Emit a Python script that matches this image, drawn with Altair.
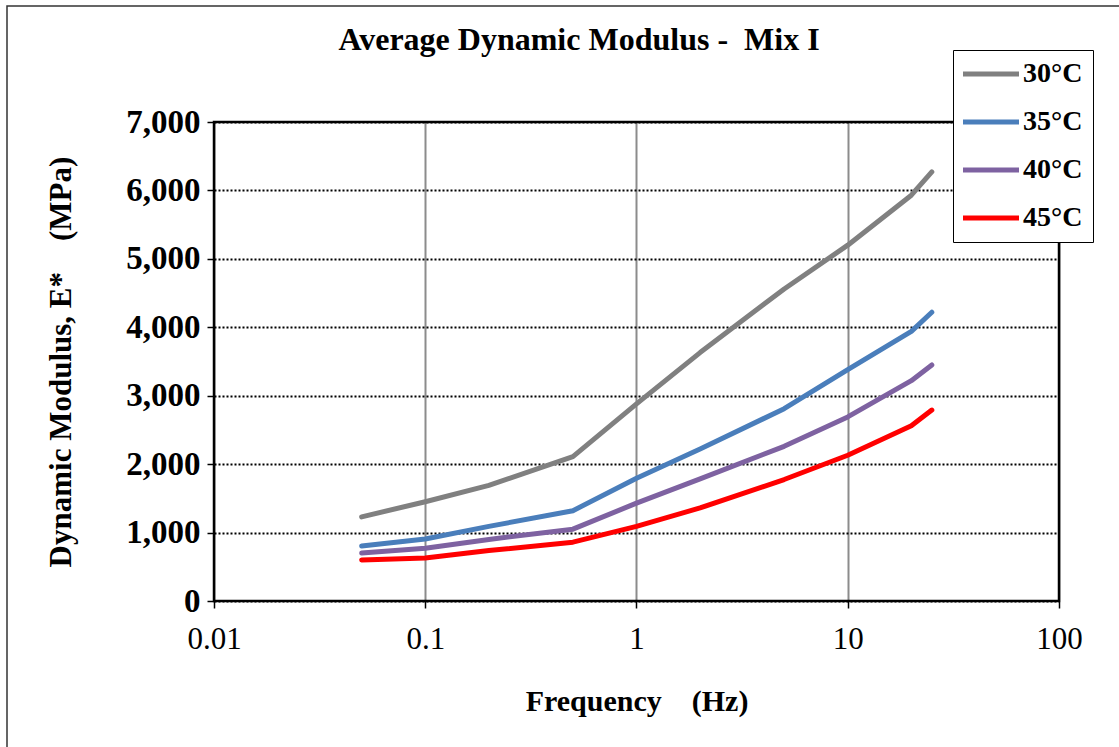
import altair as alt
import pandas as pd

# Loading frequencies (Hz) and average |E*| (MPa) for each test temperature
freq = [0.05, 0.1, 0.2, 0.5, 1, 2, 5, 10, 20, 25]
e_30 = [1230, 1450, 1690, 2110, 2880, 3630, 4560, 5200, 5930, 6270]
e_35 = [805, 905, 1090, 1320, 1795, 2220, 2810, 3380, 3940, 4220]
e_40 = [700, 772, 900, 1050, 1430, 1785, 2260, 2690, 3220, 3450]
e_45 = [600, 628, 737, 860, 1090, 1360, 1775, 2130, 2560, 2790]

temps = ["30°C", "35°C", "40°C", "45°C"]
colors = ["#808080", "#4A7EBB", "#7E62A1", "#FF0000"]
x_ticks = [0.01, 0.1, 1, 10, 100]
y_ticks = [0, 1000, 2000, 3000, 4000, 5000, 6000, 7000]

title_text = "Average Dynamic Modulus -\u00a0\u00a0Mix I"
x_title = "Frequency\u00a0\u00a0\u00a0\u00a0(Hz)"
y_title = "Dynamic Modulus, E*\u00a0\u00a0\u00a0\u00a0(MPa)"

rows = []
for t, series in zip(temps, [e_30, e_35, e_40, e_45]):
    for f, e in zip(freq, series):
        rows.append({"Frequency": f, "Modulus": e, "Temperature": t})
df = pd.DataFrame(rows)

FONT = "Liberation Serif"
W, H = 845, 479
one = pd.DataFrame({"a": [0]})

lines = alt.Chart(df).mark_line(strokeWidth=5, strokeCap="round", strokeJoin="round").encode(
    x=alt.X(
        "Frequency:Q",
        scale=alt.Scale(type="log", domain=[0.01, 100], nice=False),
        axis=alt.Axis(
            values=x_ticks,
            format="~g",
            title=x_title,
            grid=True,
            gridColor="#8c8c8c",
            gridWidth=2,
            domain=False,
            tickColor="#000000",
            tickSize=7,
            tickWidth=1.5,
            labelFlush=False,
            labelFont=FONT,
            labelFontSize=31,
            labelFontWeight="normal",
            labelColor="#000000",
            labelPadding=16,
            titleFont=FONT,
            titleFontSize=30,
            titleFontWeight="bold",
            titleColor="#000000",
            titlePadding=32,
        ),
    ),
    y=alt.Y(
        "Modulus:Q",
        scale=alt.Scale(domain=[0, 7000], nice=False),
        axis=alt.Axis(
            values=y_ticks,
            format=",.0f",
            title=y_title,
            grid=True,
            gridColor="#000000",
            gridWidth=2,
            gridDash=[2, 2],
            domain=False,
            tickColor="#000000",
            tickSize=7,
            tickWidth=1.5,
            labelFlush=False,
            labelFont=FONT,
            labelFontSize=33,
            labelFontWeight="bold",
            labelColor="#000000",
            labelPadding=7,
            titleFont=FONT,
            titleFontSize=31,
            titleFontWeight="bold",
            titleColor="#000000",
            titlePadding=48,
        ),
    ),
    color=alt.Color(
        "Temperature:N",
        scale=alt.Scale(domain=temps, range=colors),
        legend=alt.Legend(
            title=None,
            orient="none",
            legendX=739,
            legendY=-72,
            # a long horizontal stroke drawn from a small symbol footprint
            symbolType="M-2,0H6",
            symbolSize=196,
            symbolStrokeWidth=5,
            labelFont=FONT,
            labelFontSize=28,
            labelFontWeight="bold",
            labelColor="#000000",
            labelOffset=32,
            rowPadding=20,
            padding=10,
            strokeColor="#000000",
            fillColor="#ffffff",
        ),
    ),
)

# plot-area frame drawn over the grid
frame = alt.Chart(one).mark_rect(
    fill=None, stroke="#000000", strokeWidth=2.5
).encode(x=alt.value(0), x2=alt.value(W), y=alt.value(0), y2=alt.value(H))

# outer border of the figure
border = alt.Chart(one).mark_rect(
    fill=None, stroke="#333333", strokeWidth=1.5
).encode(x=alt.value(-207), x2=alt.value(920), y=alt.value(-116), y2=alt.value(650))

# chart heading
heading = alt.Chart(one).mark_text(
    text=title_text, font=FONT, fontSize=32, fontWeight="bold",
    color="#000000", align="center", baseline="alphabetic",
).encode(x=alt.value(365), y=alt.value(-72))

chart = alt.layer(border, lines, frame, heading).properties(
    width=W,
    height=H,
    autosize=alt.AutoSizeParams(type="none"),
    padding={"left": 214, "top": 122, "right": 60, "bottom": 146},
).configure_view(stroke=None).configure(background="#ffffff")

chart.save("out.html", embed_options={"renderer": "svg", "actions": False})
